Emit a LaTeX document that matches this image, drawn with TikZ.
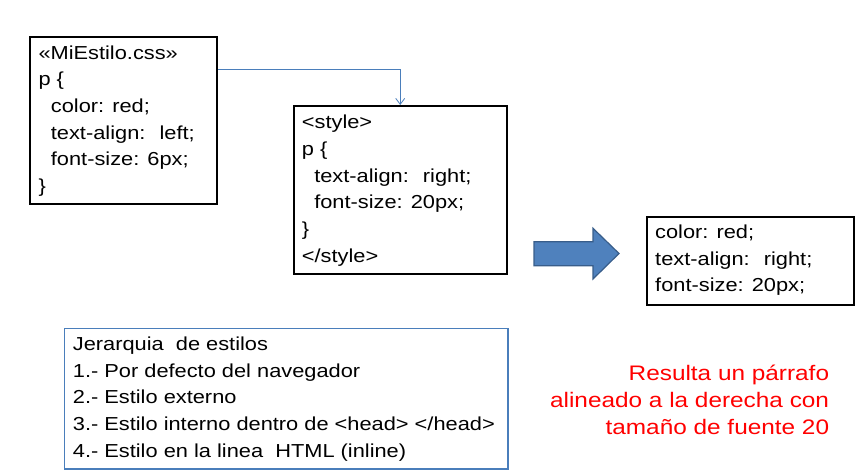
\documentclass[tikz,border=0pt]{standalone}
\usepackage{fontspec}
\setmainfont{Liberation Sans}[FakeStretch=1.16]
\usetikzlibrary{arrows.meta,calc}
\definecolor{linkblue}{HTML}{4A7EBB}
\definecolor{arrfill}{HTML}{4F81BD}
\definecolor{arrdraw}{HTML}{385D8A}
\newcommand{\ind}{\hspace*{12.4pt}}
\tikzset{
  codebox/.style={draw=black, line width=2pt, anchor=north west, inner sep=0pt},
  legendbox/.style={draw=linkblue, line width=1.6pt, anchor=north west, inner sep=0pt},
  txt/.style={anchor=base west, inner sep=0pt, font=\fontsize{18.8}{26.6}\selectfont},
  redtxt/.style={anchor=base east, inner sep=0pt, text=red, font=\fontsize{21}{26.8}\selectfont},
  link/.style={draw=linkblue, line width=0.8pt, -{Straight Barb[length=6pt,width=9pt]}},
  bigarrow/.style={fill=arrfill, draw=arrdraw, line width=1.2pt, line join=miter}
}
\begin{document}
\begin{tikzpicture}[x=1pt,y=-1pt]
\useasboundingbox (0,0) rectangle (866,473);
% boxes
\node[codebox, minimum width=187pt, minimum height=167pt] (css) at (29.3,35.7) {};
\node[codebox, minimum width=213pt, minimum height=167.7pt] (style) at (292.7,105) {};
\node[codebox, minimum width=207pt, minimum height=88pt] (result) at (646,216) {};
\node[legendbox, minimum width=443.5pt, minimum height=140.5pt] (legend) at (63.5,327.5) {};
% texts
\node[txt] (csstxt) at (38.3,59.3) {\parbox[t]{175pt}{%
«MiEstilo.css»\\
p \{\\
\ind color: red;\\
\ind text-align:~ left;\\
\ind font-size: 6px;\\
\}}};
\node[txt] (styletxt) at (301.7,129) {\parbox[t]{200pt}{%
<style>\\
p \{\\
\ind text-align:~ right;\\
\ind font-size: 20px;\\
\}\\
</style>}};
\node[txt] (resulttxt) at (655,238.5) {\parbox[t]{195pt}{%
color: red;\\
text-align:~ right;\\
font-size: 20px;}};
\node[txt] (legendtxt) at (72.7,350.7) {\parbox[t]{430pt}{%
Jerarquia~ de estilos\\
1.- Por defecto del navegador\\
2.- Estilo externo\\
3.- Estilo interno dentro de <head> </head>\\
4.- Estilo en la linea~ HTML (inline)}};
\node[redtxt] (note) at (829.3,380.7) {\parbox[t]{320pt}{\raggedleft
Resulta un párrafo\\
alineado a la derecha con\\
tamaño de fuente 20}};
% connector
\coordinate (cssout) at ($(css.north east)!0.2!(css.south east)$);
\draw[link] (cssout) -| (style.north);
% big block arrow
\draw[bigarrow] (534,241.7) -- (593,241.7) -- (593,228.3) -- (619,253.5) -- (593,279) -- (593,265.7) -- (534,265.7) -- cycle;
\end{tikzpicture}
\end{document}
